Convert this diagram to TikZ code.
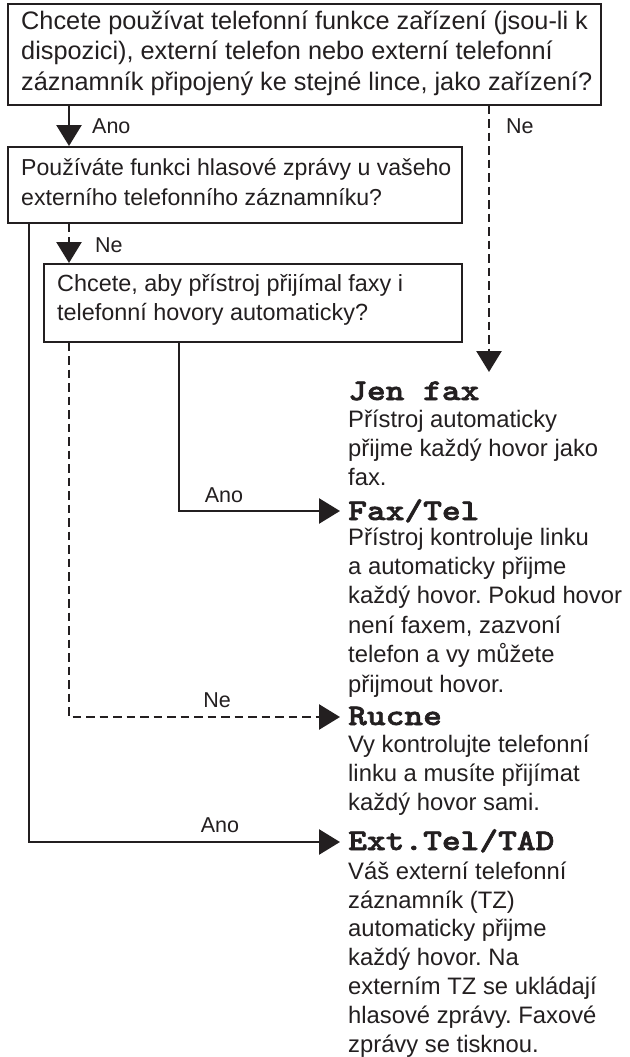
\documentclass[tikz,border=0pt]{standalone}
\usepackage{fontspec}
\setmainfont{Liberation Sans}
\newfontfamily\modefont{lmmonolt10-bold.otf}[FakeStretch=1.19, FakeBold=2]
\usetikzlibrary{arrows.meta,calc}
\definecolor{ink}{HTML}{231F20}
\frenchspacing
\begin{document}
\begin{tikzpicture}[x=1pt,y=-1pt,
  qbox/.style={draw=ink, line width=1.6pt, inner sep=0pt, anchor=north west},
  qtext/.style={anchor=base west, inner sep=0pt, align=left, text=ink, font=\fontsize{23.1}{30}\selectfont},
  desc/.style={anchor=base west, inner sep=0pt, align=left, text=ink, font=\fontsize{23.8}{28.8}\selectfont},
  mode/.style={anchor=base west, inner sep=0pt, text=ink, font=\fontsize{30}{30}\modefont},
  lbl/.style={inner sep=0pt, text=ink, font=\fontsize{21.5}{22}\selectfont},
  conn/.style={draw=ink, line width=2.6pt, -{Triangle[width=25pt,length=21pt]}},
  dashln/.style={dash pattern=on 8.5pt off 5pt}]
\useasboundingbox (0,0) rectangle (629,1057);
\fill[white] (0,0) rectangle (629,1057);

% question boxes (text nodes anchored at the baseline of their last line)
\node[qbox, minimum width=593pt, minimum height=101pt] (q1) at (7,3) {};
\node[qtext, font=\fontsize{25.3}{30.5}\selectfont] (q1t) at (21,90) {Chcete používat telefonní funkce zařízení (jsou-li k\\dispozici), externí telefon nebo externí telefonní\\záznamník připojený ke stejné lince, jako zařízení?};
\node[qbox, minimum width=454pt, minimum height=76pt] (q2) at (7,146) {};
\node[qtext] (q2t) at (21,205) {Používáte funkci hlasové zprávy u vašeho\\externího telefonního záznamníku?};
\node[qbox, minimum width=418pt, minimum height=78pt] (q3) at (43,263) {};
\node[qtext, font=\fontsize{23.4}{28.5}\selectfont] (q3t) at (57,320) {Chcete, aby přístroj přijímal faxy i\\telefonní hovory automaticky?};

% results
\node[mode] (jen) at (348,400) {Jen fax};
\node[desc] (jend) at (348,485) {Přístroj automaticky\\přijme každý hovor jako\\fax.};
\node[mode] (faxtel) at (348,520) {Fax/Tel};
\node[desc, font=\fontsize{23.8}{29.4}\selectfont] (faxteld) at (348,692) {Přístroj kontroluje linku\\a automaticky přijme\\každý hovor. Pokud hovor\\není faxem, zazvoní\\telefon a vy můžete\\přijmout hovor.};
\node[mode] (rucne) at (348,725) {Rucne};
\node[desc] (rucned) at (348,810) {Vy kontrolujte telefonní\\linku a musíte přijímat\\každý hovor sami.};
\node[mode] (ext) at (348,850) {Ext.Tel/TAD};
\node[desc] (extd) at (348,1052) {Váš externí telefonní\\záznamník (TZ)\\automaticky přijme\\každý hovor. Na\\externím TZ se ukládají\\hlasové zprávy. Faxové\\zprávy se tisknou.};

% columns for connectors
\coordinate (xa) at (69,0);
\coordinate (xb) at (29,0);
\coordinate (xc) at (179,0);
\coordinate (xd) at (489,0);

% connectors
\draw[conn] (q1.south -| xa) -- (q2.north -| xa);
\node[lbl, anchor=base west] (l1) at (92,133) {Ano};
\draw[conn, dashln] (q1.south -| xd) -- ($(jen.base west -| xd)+(0,-28)$);
\node[lbl, anchor=base west] (l2) at (506,133) {Ne};
\draw[conn] (q2.south -| xb) |- ($(ext.base west)+(-8,-8)$);
\node[lbl, anchor=base] (l3) at (220,832) {Ano};
\draw[conn, dashln] (q2.south -| xa) -- (q3.north -| xa);
\node[lbl, anchor=base west] (l4) at (95,252) {Ne};
\draw[conn] (q3.south -| xc) |- ($(faxtel.base west)+(-8,-9)$);
\node[lbl, anchor=base] (l5) at (224,502) {Ano};
\draw[conn, dashln] (q3.south -| xa) |- ($(rucne.base west)+(-8,-8)$);
\node[lbl, anchor=base] (l6) at (217,707) {Ne};
\end{tikzpicture}
\end{document}
